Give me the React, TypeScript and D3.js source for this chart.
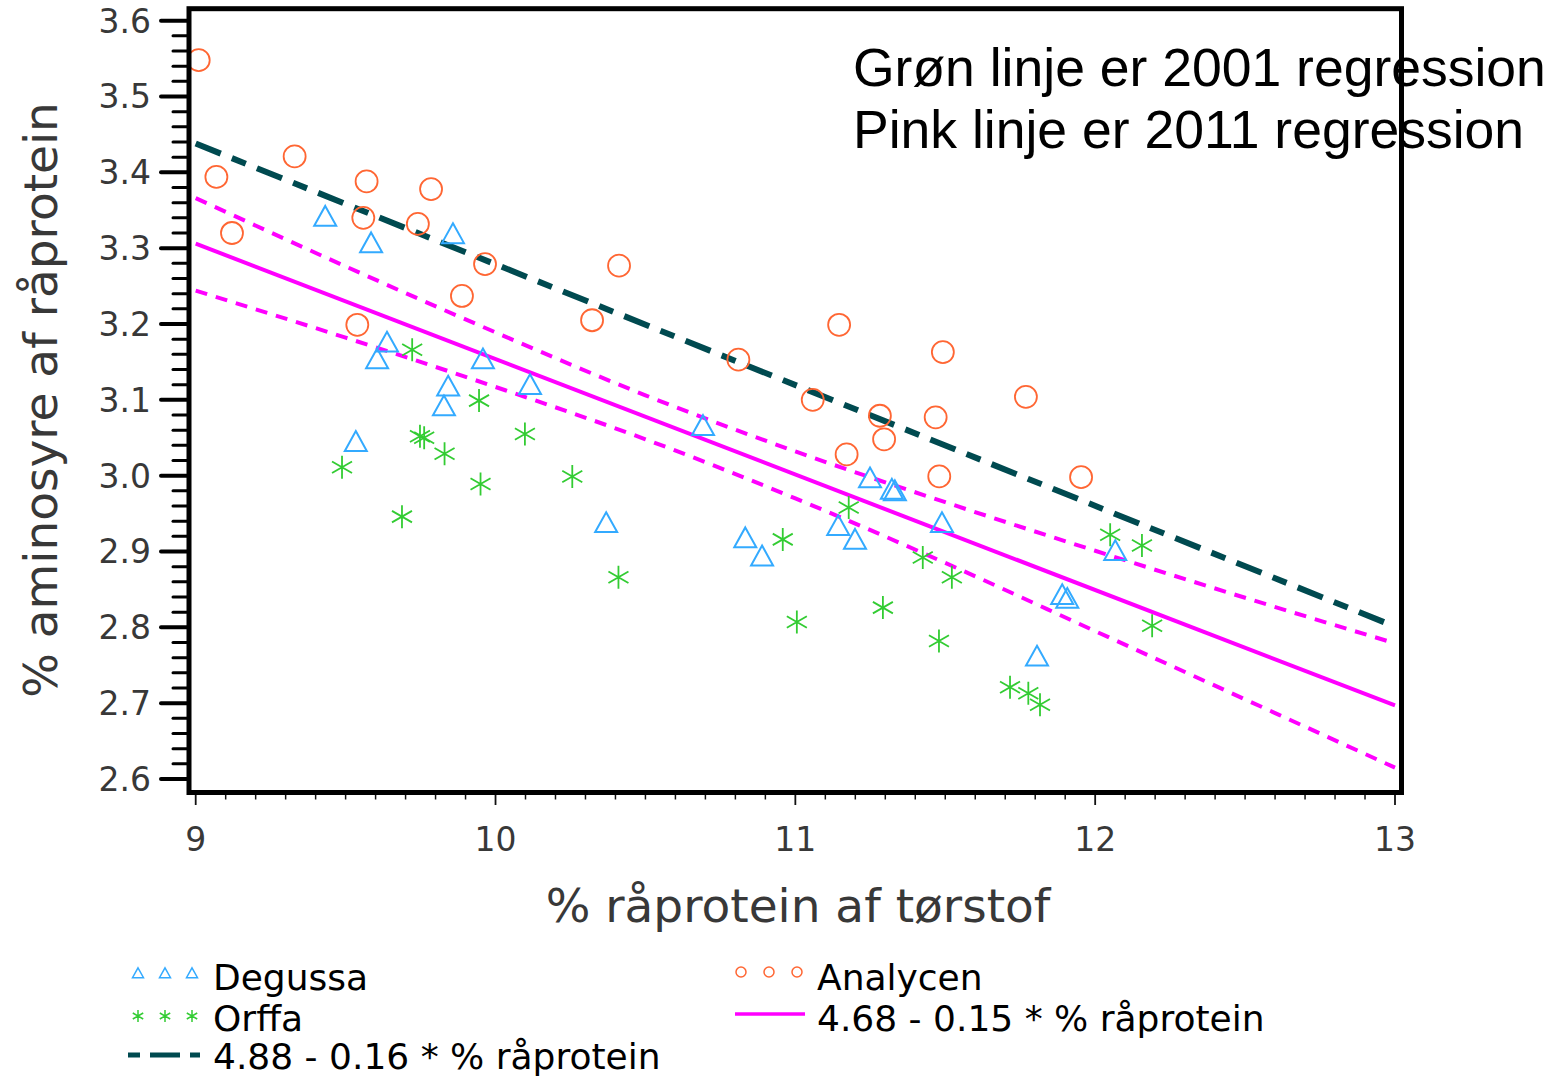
import React from 'react';
import * as d3 from 'd3';

// ---- data ----
const degussaX = [9.432, 9.585, 9.858, 9.638, 9.605, 9.534, 9.842, 9.828, 9.958, 10.115, 10.692, 10.369, 10.833, 10.889, 11.143, 11.199, 11.249, 11.322, 11.332, 11.489, 11.806, 11.890, 11.907, 12.067];
const degussaY = [3.342, 3.307, 3.319, 3.176, 3.154, 3.045, 3.118, 3.092, 3.154, 3.120, 3.066, 2.938, 2.918, 2.894, 2.934, 2.916, 2.997, 2.982, 2.980, 2.938, 2.762, 2.843, 2.838, 2.901];

const orffaX = [9.488, 9.688, 9.722, 9.748, 9.762, 9.830, 9.945, 9.950, 10.098, 10.256, 10.410, 10.958, 11.005, 11.178, 11.292, 11.425, 11.479, 11.522, 11.716, 11.777, 11.816, 12.050, 12.156, 12.190];
const orffaY = [3.011, 2.946, 3.166, 3.052, 3.050, 3.029, 3.099, 2.989, 3.055, 2.999, 2.866, 2.916, 2.807, 2.958, 2.826, 2.892, 2.782, 2.866, 2.721, 2.713, 2.698, 2.922, 2.908, 2.802];

const analycenX = [9.010, 9.069, 9.121, 9.330, 9.570, 9.559, 9.741, 9.785, 9.539, 9.888, 9.965, 10.322, 10.412, 10.810, 11.146, 11.058, 11.171, 11.282, 11.296, 11.492, 11.468, 11.480, 11.769, 11.953];
const analycenY = [3.548, 3.394, 3.320, 3.421, 3.388, 3.340, 3.332, 3.378, 3.199, 3.237, 3.279, 3.205, 3.277, 3.153, 3.199, 3.100, 3.028, 3.079, 3.048, 3.163, 3.077, 2.999, 3.104, 2.998];

// regression lines (2011 pink, 2001 teal)
const fitX = [9, 13];
const pinkFitY = [3.306, 2.697];
const tealFitY = [3.438, 2.801];

// 2011 confidence band
const bandX = [9, 9.5, 10, 10.5, 11, 11.5, 12, 12.5, 13];
const bandUpper = [3.366, 3.276, 3.189, 3.106, 3.032, 2.965, 2.901, 2.839, 2.779];
const bandLower = [3.244, 3.182, 3.117, 3.048, 2.970, 2.885, 2.795, 2.705, 2.615];

const xTicks = [9, 10, 11, 12, 13];
const yTicks = [2.6, 2.7, 2.8, 2.9, 3.0, 3.1, 3.2, 3.3, 3.4, 3.5, 3.6];

const noteLines = ['Grøn linje er 2001 regression', 'Pink linje er 2011 regression'];
const legendLabels = ['Degussa', 'Orffa', '4.88 - 0.16 * % råprotein', 'Analycen', '4.68 - 0.15 * % råprotein'];

const BLUE = '#33aaff';
const ORANGE = '#ff6633';
const GREEN = '#33cc33';
const PINK = '#ff00ff';
const TEAL = '#004a50';
const AXIS_TXT = '#383838';
const FONT = 'DejaVu Sans, Verdana, sans-serif';

const starPath = (s: number) => {
  const h = s, dx = s * 0.87, dy = s * 0.5;
  return `M0,${-h}L0,${h}M${-dx},${-dy}L${dx},${dy}M${-dx},${dy}L${dx},${-dy}`;
};
const triPath = (s: number) => `M0,${-s * 0.95}L${s},${s * 0.85}L${-s},${s * 0.85}Z`;

export default function App() {
  const W = 1558, H = 1077;
  const x = d3.scaleLinear().domain([9, 13]).range([195.7, 1395]);
  const y = d3.scaleLinear().domain([2.6, 3.6]).range([779, 20.7]);

  const frame = { x0: 189, y0: 8.7, x1: 1401.5, y1: 792.5 };

  const line = d3.line<[number, number]>().x(d => x(d[0])).y(d => y(d[1]));
  const pinkFit = line(fitX.map((v, i) => [v, pinkFitY[i]]))!;
  const tealFit = line(fitX.map((v, i) => [v, tealFitY[i]]))!;
  const curve = d3.line<[number, number]>().x(d => x(d[0])).y(d => y(d[1])).curve(d3.curveMonotoneX);
  const upper = curve(bandX.map((v, i) => [v, bandUpper[i]]))!;
  const lower = curve(bandX.map((v, i) => [v, bandLower[i]]))!;

  const minorY = d3.range(0, 51).map(i => 2.6 + i * 0.02).filter((v, i) => i % 5 !== 0);
  const minorX = d3.range(0, 41).map(i => 9 + i * 0.1).filter((v, i) => i % 10 !== 0);

  return (
    <svg width={W} height={H} style={{ position: 'absolute', left: 0, top: 0, background: '#fff' }}>
      <defs>
        <clipPath id="plotclip">
          <rect x={frame.x0} y={frame.y0} width={frame.x1 - frame.x0} height={frame.y1 - frame.y0} />
        </clipPath>
      </defs>

      {/* y axis ticks */}
      {minorY.map((v, i) => (
        <line key={'my' + i} x1={173} x2={188} y1={y(v)} y2={y(v)} stroke="#000" strokeWidth={3} strokeLinecap="round" />
      ))}
      {yTicks.map((v, i) => (
        <line key={'Y' + i} x1={161} x2={188} y1={y(v)} y2={y(v)} stroke="#000" strokeWidth={4} strokeLinecap="round" />
      ))}
      {yTicks.map((v, i) => (
        <text key={'yl' + i} x={151} y={y(v)} dy="0.36em" textAnchor="end" fontFamily={FONT} fontSize={33} fill={AXIS_TXT}>
          {v.toFixed(1)}
        </text>
      ))}

      {/* x axis ticks */}
      {minorX.map((v, i) => (
        <line key={'mx' + i} x1={x(v)} x2={x(v)} y1={794} y2={799.5} stroke="#111" strokeWidth={1.5} />
      ))}
      {xTicks.map((v, i) => (
        <line key={'X' + i} x1={x(v)} x2={x(v)} y1={794} y2={805} stroke="#111" strokeWidth={1.8} />
      ))}
      {xTicks.map((v, i) => (
        <text key={'xl' + i} x={x(v)} y={851} textAnchor="middle" fontFamily={FONT} fontSize={33} fill={AXIS_TXT}>
          {v}
        </text>
      ))}

      {/* axis titles */}
      <text x={798} y={922} textAnchor="middle" fontFamily={FONT} fontSize={47} fill={AXIS_TXT}>
        % råprotein af tørstof
      </text>
      <text transform="translate(57,400) rotate(-90)" textAnchor="middle" fontFamily={FONT} fontSize={47} fill={AXIS_TXT}>
        % aminosyre af råprotein
      </text>

      <g clipPath="url(#plotclip)">
        {/* band + fits */}
        <path d={upper} fill="none" stroke={PINK} strokeWidth={4} strokeDasharray="12 9" />
        <path d={lower} fill="none" stroke={PINK} strokeWidth={4} strokeDasharray="12 9" />
        <path d={pinkFit} fill="none" stroke={PINK} strokeWidth={4} />
        <path d={tealFit} fill="none" stroke={TEAL} strokeWidth={6} strokeDasharray="27 12 15 12" />

        {/* markers */}
        {analycenX.map((v, i) => (
          <circle key={'a' + i} cx={x(v)} cy={y(analycenY[i])} r={11} fill="none" stroke={ORANGE} strokeWidth={1.8} />
        ))}
        {degussaX.map((v, i) => (
          <path key={'d' + i} transform={`translate(${x(v)},${y(degussaY[i])})`} d={triPath(11)} fill="none" stroke={BLUE} strokeWidth={2} />
        ))}
        {orffaX.map((v, i) => (
          <path key={'o' + i} transform={`translate(${x(v)},${y(orffaY[i])})`} d={starPath(11.5)} fill="none" stroke={GREEN} strokeWidth={1.8} />
        ))}
      </g>

      {/* frame */}
      <rect x={frame.x0} y={frame.y0} width={frame.x1 - frame.x0} height={frame.y1 - frame.y0} fill="none" stroke="#000" strokeWidth={5} />

      {/* annotation */}
      {noteLines.map((t, i) => (
        <text key={'n' + i} x={853} y={86 + i * 62} fontFamily="Liberation Sans, Arial, sans-serif" fontSize={53.5} fill="#000">
          {t}
        </text>
      ))}

      {/* legend */}
      <g fontFamily={FONT} fontSize={36} fill="#000">
        {[138, 165, 192].map((cx, i) => (
          <path key={'lt' + i} transform={`translate(${cx},973)`} d={triPath(5.5)} fill="none" stroke={BLUE} strokeWidth={1.5} />
        ))}
        <text x={213} y={990}>{legendLabels[0]}</text>
        {[138, 165, 192].map((cx, i) => (
          <path key={'ls' + i} transform={`translate(${cx},1016)`} d={starPath(6)} fill="none" stroke={GREEN} strokeWidth={1.5} />
        ))}
        <text x={213} y={1031}>{legendLabels[1]}</text>
        <line x1={128} x2={200} y1={1055} y2={1055} stroke={TEAL} strokeWidth={5} strokeDasharray="12 10 30 10 12" />
        <text x={213} y={1069}>{legendLabels[2]}</text>

        {[741, 769, 797].map((cx, i) => (
          <circle key={'lc' + i} cx={cx} cy={972} r={5} fill="none" stroke={ORANGE} strokeWidth={1.5} />
        ))}
        <text x={817} y={990}>{legendLabels[3]}</text>
        <line x1={735} x2={805} y1={1014} y2={1014} stroke={PINK} strokeWidth={3.5} />
        <text x={817} y={1031}>{legendLabels[4]}</text>
      </g>
    </svg>
  );
}
